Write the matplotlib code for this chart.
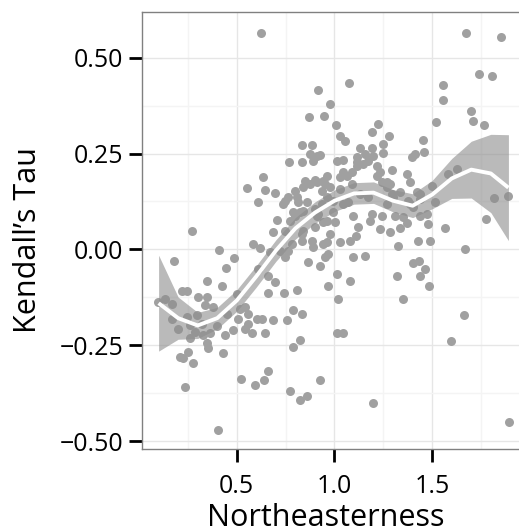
import matplotlib
matplotlib.use("Agg")
import matplotlib.pyplot as plt
import numpy as np

# Observations: northeasterness vs Kendall's tau
northeast = [
    0.624, 1.673, 1.852, 1.076, 0.917, 0.977, 0.944, 0.871, 1.009, 1.026,
    1.054, 1.224, 1.190, 1.279, 1.248, 1.194, 1.130, 1.114, 1.156, 1.198,
    1.250, 1.013, 1.046, 1.114, 1.173, 1.216, 1.451, 1.458, 1.412, 1.395,
    1.519, 1.557, 1.555, 1.738, 1.806, 1.698, 1.710, 1.765, 0.926, 0.832,
    0.886, 0.875, 0.909, 0.767, 0.834, 0.892, 0.633, 0.551, 0.645, 0.696,
    0.610, 0.270, 0.411, 0.486, 0.443, 0.585, 0.619, 0.181, 0.346, 0.426,
    0.218, 0.244, 0.303, 0.346, 0.099, 0.133, 0.167, 0.500, 0.610, 0.661,
    0.696, 0.661, 0.742, 0.807, 0.789, 0.704, 0.687, 0.747, 0.772, 0.798,
    0.824, 0.840, 0.832, 0.883, 0.892, 0.866, 0.926, 0.965, 0.951, 0.747,
    0.721, 0.764, 0.738, 0.764, 0.798, 0.840, 0.875, 0.909, 0.943, 0.807,
    0.858, 0.900, 0.840, 0.909, 0.943, 0.900, 0.960, 0.935, 0.849, 0.900,
    0.747, 0.815, 0.935, 0.789, 0.917, 0.832, 0.670, 0.781, 0.943, 0.542,
    0.602, 0.628, 0.687, 0.755, 0.832, 0.508, 0.559, 0.201, 0.261, 0.346,
    0.354, 0.252, 0.210, 0.227, 0.278, 0.235, 0.431, 0.440, 0.482, 0.542,
    0.576, 0.645, 0.824, 0.789, 0.658, 0.641, 0.593, 0.520, 0.772, 0.824,
    0.858, 0.926, 0.404, 0.559, 0.338, 0.380, 0.295, 0.244, 0.167, 0.321,
    0.363, 0.329, 0.286, 0.261, 0.397, 0.449, 0.517, 1.018, 1.350, 1.011,
    1.045, 1.662, 1.594, 1.195, 1.893, 1.147, 1.114, 1.293, 1.369, 1.386,
    1.045, 1.062, 1.028, 1.088, 0.960, 0.951, 0.977, 1.028, 1.216, 1.242,
    1.267, 1.284, 1.335, 1.293, 1.421, 1.437, 1.497, 1.582, 1.625, 1.514,
    1.386, 1.403, 1.437, 1.173, 1.267, 1.069, 1.045, 0.994, 0.994, 0.960,
    1.003, 1.096, 1.190, 1.242, 1.182, 1.309, 1.352, 1.369, 1.437, 1.472,
    1.480, 1.335, 1.233, 1.284, 1.122, 1.110, 1.079, 1.028, 0.977, 0.960,
    1.565, 1.488, 1.429, 1.323, 0.968, 1.096, 1.156, 1.011, 1.079, 1.318,
    1.403, 1.434, 1.463, 1.437, 1.485, 1.668, 1.773, 1.816, 1.889, 1.130,
    1.301, 1.378, 1.267, 1.233, 1.088,
]
kendall_tau = [
    0.563, 0.565, 0.554, 0.433, 0.415, 0.379, 0.348, 0.345, 0.325, 0.296,
    0.282, 0.328, 0.306, 0.295, 0.274, 0.265, 0.264, 0.242, 0.249, 0.244,
    0.252, 0.231, 0.234, 0.227, 0.231, 0.218, 0.286, 0.253, 0.249, 0.240,
    0.333, 0.429, 0.390, 0.458, 0.451, 0.361, 0.334, 0.324, 0.247, 0.273,
    0.272, 0.249, 0.244, 0.229, 0.228, 0.231, 0.190, 0.160, 0.155, 0.146,
    0.123, 0.048, -0.001, -0.023, -0.049, 0.015, 0.004, -0.029, -0.083, -0.096,
    -0.107, -0.107, -0.124, -0.124, -0.137, -0.128, -0.141, -0.115, -0.050, -0.068,
    -0.085, -0.114, -0.114, -0.105, -0.157, 0.077, 0.045, 0.049, 0.075, 0.088,
    0.097, 0.049, 0.023, 0.023, 0.006, -0.033, -0.044, -0.094, -0.020, -0.020,
    -0.003, -0.003, 0.119, 0.136, 0.153, 0.162, 0.171, 0.175, 0.179, 0.136,
    0.123, 0.106, 0.101, 0.088, 0.071, 0.058, 0.136, 0.119, 0.178, 0.181,
    0.127, 0.123, 0.153, 0.097, 0.093, 0.041, -0.007, 0.015, 0.015, -0.150,
    -0.180, -0.180, -0.185, -0.185, -0.167, -0.180, -0.193, -0.206, -0.232, -0.245,
    -0.258, -0.267, -0.280, -0.284, -0.296, -0.358, -0.270, -0.224, -0.210, -0.206,
    -0.218, -0.219, -0.236, -0.254, -0.317, -0.339, -0.352, -0.338, -0.368, -0.393,
    -0.381, -0.339, -0.471, -0.167, -0.146, -0.150, -0.172, -0.176, -0.180, -0.193,
    -0.219, -0.224, -0.215, -0.198, -0.200, -0.167, -0.154, -0.128, -0.130, -0.218,
    -0.218, -0.170, -0.239, -0.400, -0.450, 0.223, 0.218, 0.207, 0.196, 0.175,
    0.201, 0.192, 0.188, 0.171, 0.192, 0.171, 0.162, 0.158, 0.192, 0.175,
    0.175, 0.171, 0.149, 0.145, 0.149, 0.145, 0.166, 0.197, 0.210, 0.123,
    0.119, 0.110, 0.132, 0.136, 0.119, 0.123, 0.119, 0.127, 0.097, 0.075,
    0.071, 0.087, 0.093, 0.086, 0.075, 0.088, 0.084, 0.069, 0.088, 0.093,
    0.067, 0.056, 0.054, 0.046, 0.058, 0.036, 0.023, 0.019, 0.039, 0.019,
    0.055, 0.023, 0.022, 0.010, -0.013, -0.020, -0.018, -0.063, -0.081, -0.068,
    -0.035, -0.029, -0.050, -0.068, -0.095, 0.000, 0.080, 0.133, 0.140, 0.145,
    0.136, 0.127, 0.162, 0.201, 0.201,
]

# Local regression fit and its confidence band
smooth_x = [0.10, 0.20, 0.30, 0.40, 0.50, 0.60, 0.70, 0.80, 0.90, 1.00,
            1.10, 1.20, 1.30, 1.40, 1.50, 1.60, 1.70, 1.80, 1.89]
smooth_fit = [-0.140, -0.179, -0.198, -0.179, -0.133, -0.070, -0.003, 0.055, 0.096, 0.127,
              0.146, 0.148, 0.127, 0.114, 0.143, 0.185, 0.208, 0.198, 0.161]
smooth_se = [0.125, 0.055, 0.034, 0.028, 0.028, 0.028, 0.028, 0.028, 0.028, 0.028,
             0.028, 0.028, 0.029, 0.031, 0.037, 0.052, 0.074, 0.102, 0.138]

x_ticks = [0.5, 1.0, 1.5]
y_ticks = [-0.50, -0.25, 0.00, 0.25, 0.50]

plt.rcParams["font.family"] = ["Open Sans", "DejaVu Sans"]

fig = plt.figure(figsize=(5.19, 5.29), dpi=100)
ax = fig.add_axes([142 / 519, 80 / 529, 384 / 519, 436.7 / 529])

ax.set_xlim(0.015, 1.98)
ax.set_ylim(-0.520, 0.618)

# grid
ax.set_xticks(x_ticks)
ax.set_yticks(y_ticks)
ax.set_xticks([0.25, 0.75, 1.25, 1.75], minor=True)
ax.set_yticks([-0.375, -0.125, 0.125, 0.375], minor=True)
ax.grid(True, which="major", color="#E6E6E6", linewidth=1.0)
ax.grid(True, which="minor", color="#F4F4F4", linewidth=1.0)
ax.set_axisbelow(True)

ax.scatter(northeast, kendall_tau, s=42, color="#A0A0A0", linewidths=0, zorder=2)

fit = np.array(smooth_fit)
se = np.array(smooth_se)
ax.fill_between(smooth_x, fit - se, fit + se, color="#8C8C8C", alpha=0.6,
                linewidth=0, zorder=3)
ax.plot(smooth_x, smooth_fit, color="white", linewidth=2.8, zorder=4,
        solid_capstyle="butt")

ax.set_xticklabels(["0.5", "1.0", "1.5"])
ax.set_yticklabels(["\u22120.50", "\u22120.25", "0.00", "0.25", "0.50"])

for s in ax.spines.values():
    s.set_color("#808080")
    s.set_linewidth(1.0)

ax.tick_params(which="major", direction="out", length=9.5, width=2.0,
               color="black", labelsize=18, labelcolor="black")
ax.tick_params(axis="x", which="major", pad=8.5)
ax.tick_params(axis="y", which="major", pad=4)
ax.tick_params(which="minor", length=0)

ax.set_xlabel("Northeasterness", fontsize=22)
ax.set_ylabel("Kendall\u2019s Tau", fontsize=22)
ax.xaxis.set_label_coords(0.479, -0.123)
ax.yaxis.set_label_coords(-0.258, 0.479)

fig.savefig("out.png", dpi=100)
